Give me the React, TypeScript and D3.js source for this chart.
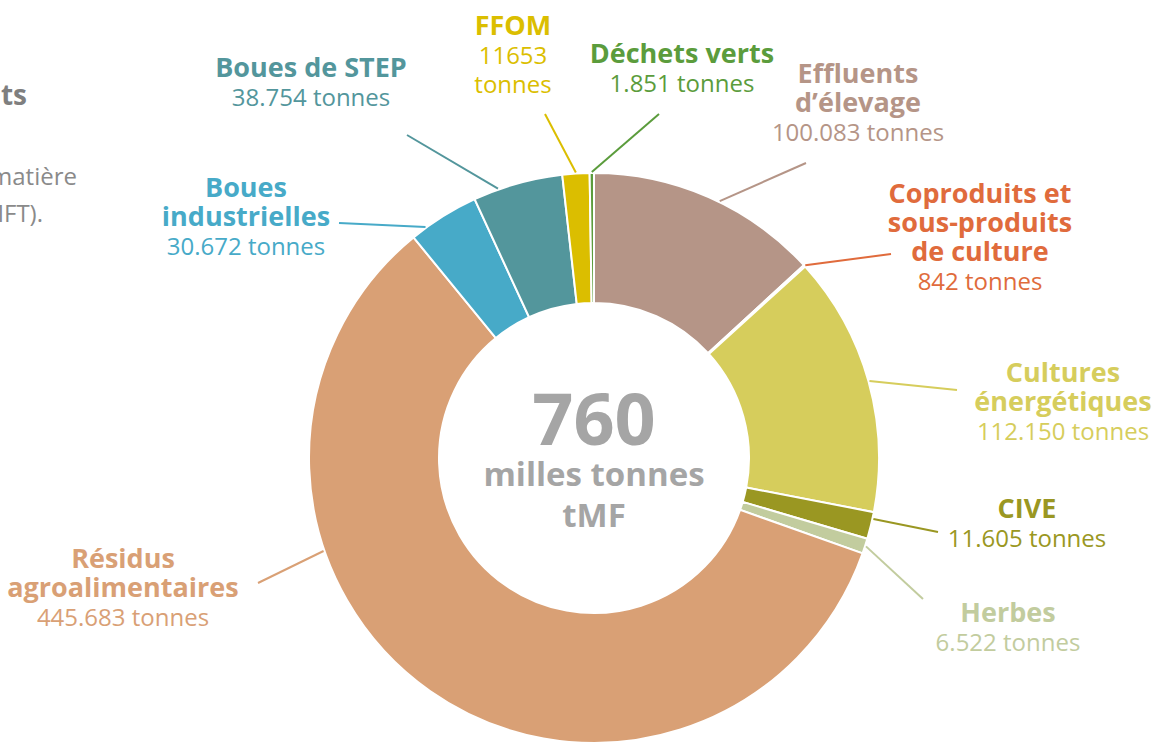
import React from 'react';
import * as d3 from 'd3';

// categories, clockwise from 12 o'clock
const categories = [
  "Effluents d’élevage",
  "Coproduits et sous-produits de culture",
  "Cultures énergétiques",
  "CIVE",
  "Herbes",
  "Résidus agroalimentaires",
  "Boues industrielles",
  "Boues de STEP",
  "FFOM",
  "Déchets verts",
];
const values = [100083, 842, 112150, 11605, 6522, 445683, 30672, 38754, 11653, 1851];
const colors = ["#b59587", "#e06b3c", "#d6cd5c", "#9a9722", "#c2cc9e", "#d9a075", "#47aac8", "#53969c", "#dbbe00", "#5b9c3c"];
const titleLines = [
  ["Effluents", "d’élevage"],
  ["Coproduits et", "sous-produits", "de culture"],
  ["Cultures", "énergétiques"],
  ["CIVE"],
  ["Herbes"],
  ["Résidus", "agroalimentaires"],
  ["Boues", "industrielles"],
  ["Boues de STEP"],
  ["FFOM"],
  ["Déchets verts"],
];
const valueLines = [
  ["100.083 tonnes"],
  ["842 tonnes"],
  ["112.150 tonnes"],
  ["11.605 tonnes"],
  ["6.522 tonnes"],
  ["445.683 tonnes"],
  ["30.672 tonnes"],
  ["38.754 tonnes"],
  ["11653", "tonnes"],
  ["1.851 tonnes"],
];
const totalLines = ["760", "milles tonnes", "tMF"];

// layout: label anchor (first baseline), leader outer end, leader position inside slice
const labelLayout = [
  { x: 858, y: 83, ex: 806, ey: 163, t: 0.55 },
  { x: 980, y: 203, ex: 891, ey: 254, t: 0.5 },
  { x: 1063, y: 382, ex: 957, ey: 390, t: 0.5 },
  { x: 1027, y: 518, ex: 938, ey: 532, t: 0.25 },
  { x: 1008, y: 622, ex: 923, ey: 599, t: 0.5 },
  { x: 123, y: 568, ex: 258, ey: 583, t: 0.67 },
  { x: 246, y: 197, ex: 339, ey: 223, t: 0.22 },
  { x: 311, y: 77, ex: 407, ey: 135, t: 0.28 },
  { x: 513, y: 35, ex: 545, ey: 114, t: 0.5 },
  { x: 682, y: 63, ex: 659, ey: 114, t: 0.5 },
];

const W = 1155, H = 743;
const cx = 594, cy = 458;
const R = 285, r = 155;
const lineH = 29;
const font = "'Open Sans', sans-serif";

export default function App() {
  const pie = d3.pie<number>().sort(null).startAngle(0).endAngle(2 * Math.PI);
  const arcs = pie(values);
  const arc = d3.arc<d3.PieArcDatum<number>>().innerRadius(r).outerRadius(R);

  return (
    <svg width={W} height={H} style={{ position: 'absolute', left: 0, top: 0, background: '#fff' }}>
      {/* cut-off text from the page on the left */}
      <g fontFamily={font}>
        <text x={27} y={105} textAnchor="end" fontSize={28} fontWeight={700} fill="#7f7f7f">Intrants</text>
        <text x={77} y={185} textAnchor="end" fontSize={24} fill="#8a8a8a">matière</text>
        <text x={43} y={222} textAnchor="end" fontSize={24} fill="#8a8a8a">(tMFT).</text>
      </g>

      <g transform={`translate(${cx},${cy})`}>
        {arcs.map((a, i) => (
          <path key={categories[i]} d={arc(a) || ''} fill={colors[i]} stroke="#fff" strokeWidth={2} />
        ))}
      </g>

      {/* leader lines */}
      {arcs.map((a, i) => {
        const L = labelLayout[i];
        const ang = a.startAngle + L.t * (a.endAngle - a.startAngle);
        const x1 = cx + (R + 1) * Math.sin(ang);
        const y1 = cy - (R + 1) * Math.cos(ang);
        return <line key={'l' + i} x1={x1} y1={y1} x2={L.ex} y2={L.ey} stroke={colors[i]} strokeWidth={2} />;
      })}

      {/* labels */}
      {categories.map((c, i) => {
        const L = labelLayout[i];
        return (
          <g key={'t' + c} fontFamily={font} fill={colors[i]} textAnchor="middle">
            {titleLines[i].map((s, k) => (
              <text key={k} x={L.x} y={L.y + k * lineH} fontSize={27} fontWeight={700}>{s}</text>
            ))}
            {valueLines[i].map((s, k) => (
              <text key={'v' + k} x={L.x} y={L.y + (titleLines[i].length + k) * lineH} fontSize={24}>{s}</text>
            ))}
          </g>
        );
      })}

      {/* total in the middle */}
      <g fontFamily={font} fill="#a5a5a5" textAnchor="middle" fontWeight={700}>
        <text x={cx} y={445} fontSize={72}>{totalLines[0]}</text>
        <text x={cx} y={486} fontSize={33}>{totalLines[1]}</text>
        <text x={cx} y={527} fontSize={33}>{totalLines[2]}</text>
      </g>
    </svg>
  );
}
